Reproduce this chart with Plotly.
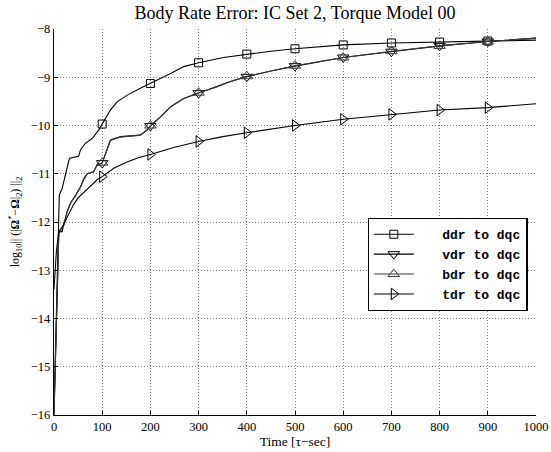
import plotly.graph_objects as go

# ---------------- data ----------------
ddr_t = [0, 3, 6, 10, 11, 17, 25, 32, 51, 55, 65, 79, 93, 100, 117, 131, 152, 179, 200,
         242, 269, 300, 352, 400, 450, 500, 600, 700, 800, 900, 1000]
ddr_v = [-15.9, -14.6, -13.1, -11.9, -11.44, -11.3, -11.0, -10.68, -10.64, -10.5, -10.37,
         -10.27, -10.09, -9.97, -9.68, -9.51, -9.37, -9.23, -9.13, -8.92, -8.78, -8.70,
         -8.59, -8.52, -8.46, -8.41, -8.33, -8.29, -8.27, -8.25, -8.23]

vdr_t = [0, 10, 17, 20, 27, 34, 45, 55, 62, 69, 82, 89, 100, 117, 138, 179, 193, 200,
         221, 242, 269, 300, 338, 366, 400, 450, 500, 600, 700, 800, 900, 1000]
vdr_v = [-16.0, -12.2, -12.1, -12.06, -11.79, -11.61, -11.44, -11.27, -11.1, -11.0,
         -10.96, -10.82, -10.78, -10.3, -10.23, -10.2, -10.09, -10.01, -9.82, -9.61,
         -9.44, -9.33, -9.2, -9.09, -8.99, -8.87, -8.77, -8.59, -8.47, -8.35, -8.26, -8.19]

bdr_t = [0, 10, 17, 20, 27, 34, 45, 55, 62, 69, 82, 89, 100, 117, 138, 179, 193, 200,
         221, 242, 269, 300, 338, 366, 400, 450, 500, 600, 700, 800, 900, 1000]
bdr_v = [-16.0, -12.25, -12.12, -12.08, -11.8, -11.62, -11.45, -11.28, -11.12, -11.0,
         -10.96, -10.83, -10.77, -10.31, -10.24, -10.2, -10.1, -10.0, -9.82, -9.61,
         -9.44, -9.32, -9.2, -9.09, -8.98, -8.87, -8.76, -8.59, -8.46, -8.35, -8.26, -8.19]

tdr_t = [0, 5, 10, 17, 20, 30, 40, 50, 60, 70, 80, 90, 100, 125, 150, 175, 200, 250,
         300, 350, 400, 450, 500, 600, 700, 800, 900, 1000]
tdr_v = [-13.4, -12.6, -12.2, -12.2, -12.05, -11.85, -11.65, -11.5, -11.4, -11.3, -11.2,
         -11.12, -11.06, -10.88, -10.76, -10.67, -10.60, -10.45, -10.33, -10.23, -10.15,
         -10.07, -10.0, -9.87, -9.77, -9.68, -9.63, -9.55]

marker_t = [100, 200, 300, 400, 500, 600, 700, 800, 900]

names = ["ddr to dqc", "vdr to dqc", "bdr to dqc", "tdr to dqc"]
x_ticks = [0, 100, 200, 300, 400, 500, 600, 700, 800, 900, 1000]
y_ticks = [-16, -15, -14, -13, -12, -11, -10, -9, -8]

# ---------------- figure ----------------
series = [
    (ddr_t, ddr_v, "square-open", 8, "black"),
    (vdr_t, vdr_v, "triangle-down-open", 10, "black"),
    (bdr_t, bdr_v, "triangle-up-open", 10, "#3a3a3a"),
    (tdr_t, tdr_v, "triangle-right-open", 10, "black"),
]

fig = go.Figure()
for (t, v, sym, ms, col), nm in zip(series, names):
    fig.add_trace(go.Scatter(x=t, y=v, mode="lines", line=dict(color=col, width=1.1),
                             showlegend=False, hoverinfo="skip"))
    lookup = dict(zip(t, v))
    mt = [m for m in marker_t if m in lookup]
    fig.add_trace(go.Scatter(x=mt, y=[lookup[m] for m in mt], mode="markers",
                             marker=dict(symbol=sym, size=ms, color=col,
                                         line=dict(color=col, width=1)),
                             showlegend=False, hoverinfo="skip"))
    fig.add_trace(go.Scatter(x=[None], y=[None], mode="lines+markers",
                             name="\u00a0\u00a0\u00a0" + nm,
                             line=dict(color=col, width=1.1),
                             marker=dict(symbol=sym, size=ms, color=col,
                                         line=dict(color=col, width=1))))

axis_common = dict(
    showgrid=True, gridcolor="#808080", gridwidth=1, griddash="1px,2px",
    zeroline=False, showline=True, linecolor="black", linewidth=1.3,
    ticks="inside", ticklen=4, tickcolor="black", tickwidth=1,
    tickfont=dict(family="Liberation Serif", size=12.5, color="black"),
    mirror=False, automargin=False,
)

fig.update_xaxes(range=[0, 1000], tickvals=x_ticks, **axis_common,
                 title=dict(text="Time [τ−sec]", standoff=3,
                            font=dict(family="Liberation Serif", size=13.5, color="black")))
fig.update_yaxes(range=[-16, -8], tickvals=y_ticks, **axis_common,
                 title=dict(text="log<sub>10</sub>|| (|<b>Ω</b><sup>*</sup>−<b>Ω</b>|<sub>2</sub>) ||<sub>2</sub>",
                            standoff=8,
                            font=dict(family="Liberation Serif", size=12, color="black")))

fig.update_layout(
    width=551, height=452,
    margin=dict(l=54, r=14.5, t=29, b=37),
    paper_bgcolor="white", plot_bgcolor="white",
    title=dict(text="Body Rate Error: IC Set 2, Torque Model 00",
               x=0.5, xref="paper", xanchor="center",
               y=1 - 6 / 452, yref="container", yanchor="top",
               font=dict(family="Liberation Serif", size=18, color="black")),
    legend=dict(x=(528 - 54) / 482.5, xanchor="right", y=(415 - 218) / 386, yanchor="top",
                bgcolor="white", bordercolor="black", borderwidth=1.3,
                itemwidth=40,
                font=dict(family="Liberation Mono", size=13, color="black", weight="bold")),
)

# remove the page's default body margin so the figure fills the window exactly
fig.write_html("out.html",
               config={"displayModeBar": False},
               post_script="document.body.style.margin='0';document.body.style.overflow='hidden';")
